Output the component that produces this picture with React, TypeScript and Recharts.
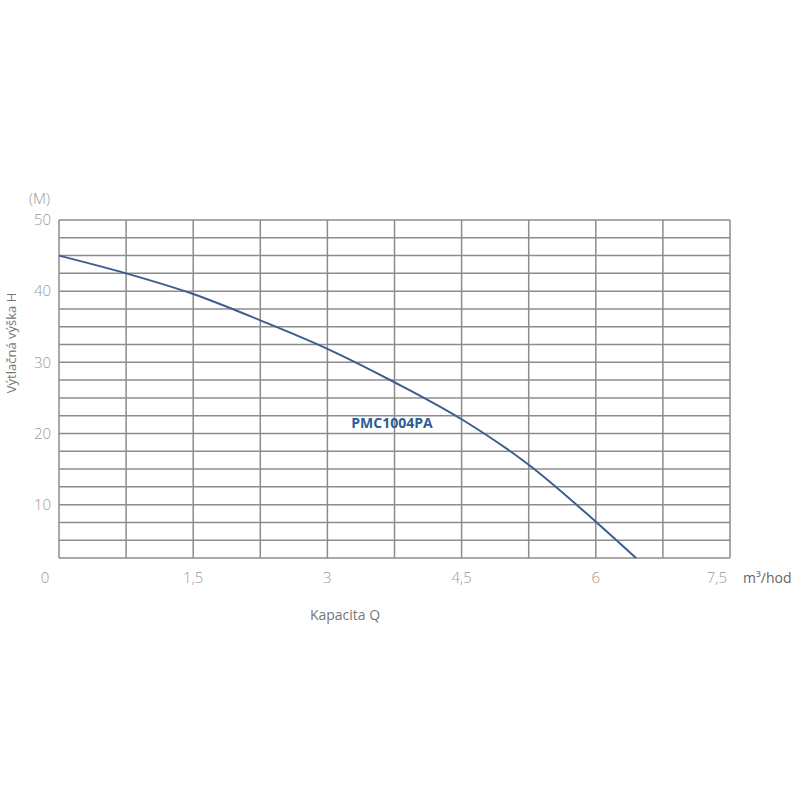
import { LineChart, Line, XAxis, YAxis, CartesianGrid } from "recharts";

// capacity Q (m3/hod) vs head H (m)
const qValues = [0, 0.75, 1.5, 2.25, 3, 3.75, 4.5, 5.25, 6, 6.45];
const hValues = [45, 42.5, 39.6, 35.9, 31.9, 27.2, 22, 15.6, 7.6, 2.5];

const xTicks = [0, 0.75, 1.5, 2.25, 3, 3.75, 4.5, 5.25, 6, 6.75, 7.5];
const xLabelValues = [0, 1.5, 3, 4.5, 6, 7.5];
const xLabels = ["0", "1,5", "3", "4,5", "6", "7,5"];

const yTicks = [2.5, 5, 7.5, 10, 12.5, 15, 17.5, 20, 22.5, 25, 27.5, 30, 32.5, 35, 37.5, 40, 42.5, 45, 47.5, 50];
const yLabelValues = [10, 20, 30, 40, 50];

const data = qValues.map((q, i) => ({ q, h: hValues[i] }));

const labelFont = "'Open Sans', 'Liberation Sans', sans-serif";

function XTick(props: any) {
  const { x, y, payload } = props;
  const idx = xLabelValues.indexOf(payload.value);
  if (idx < 0) return null;
  // first and last labels sit a bit off the grid lines in the original
  let dx = 0;
  if (idx === 0) dx = -14;
  if (idx === xLabelValues.length - 1) dx = -13;
  return (
    <text x={x + dx} y={y} dy="1.1em" textAnchor="middle" fill="#9a9a9a" fontSize={15} fontFamily={labelFont} fontWeight={300}>
      {xLabels[idx]}
    </text>
  );
}

export default function App() {
  return (
    <div style={{ position: "absolute", left: 0, top: 0, width: 800, height: 800, background: "#fff" }}>
      <LineChart width={800} height={800} data={data} margin={{ top: 220, right: 70, left: 0, bottom: 0 }}>
        <CartesianGrid stroke="#8c8c8c" strokeWidth={1.5} />
        <XAxis
          dataKey="q"
          type="number"
          domain={[0, 7.5]}
          ticks={xTicks}
          height={242}
          axisLine={false}
          tickLine={false}
          interval={0}
          tick={<XTick />}
        />
        <YAxis
          type="number"
          domain={[2.5, 50]}
          ticks={yTicks}
          width={59}
          axisLine={false}
          tickLine={false}
          interval={0}
          tick={{ fill: "#9a9a9a", fontSize: 15, fontFamily: labelFont, fontWeight: 300 }}
          tickFormatter={(v: number) => (yLabelValues.includes(v) ? String(v) : "")}
        />
        <Line
          type="monotone"
          dataKey="h"
          stroke="#3d5d8f"
          strokeWidth={2}
          dot={false}
          isAnimationActive={false}
        />
      </LineChart>
      <svg width={800} height={800} style={{ position: "absolute", left: 0, top: 0, pointerEvents: "none" }}>
        <text x={50} y={204} textAnchor="end" fill="#9a9a9a" fontSize={15} fontFamily={labelFont} fontWeight={300}>
          (M)
        </text>
        <text
          x={16}
          y={343}
          transform="rotate(-90 16 343)"
          textAnchor="middle"
          fill="#777"
          fontSize={13}
          fontFamily={labelFont}
        >
          Výtlačná výška H
        </text>
        <text x={743} y={583} fill="#666" fontSize={14} fontFamily={labelFont}>
          m³/hod
        </text>
        <text x={345} y={620} textAnchor="middle" fill="#777" fontSize={14} fontFamily={labelFont}>
          Kapacita Q
        </text>
        <text x={392} y={428} textAnchor="middle" fill="#2e5c9a" fontSize={14} fontWeight="bold" fontFamily={labelFont}>
          PMC1004PA
        </text>
      </svg>
    </div>
  );
}
